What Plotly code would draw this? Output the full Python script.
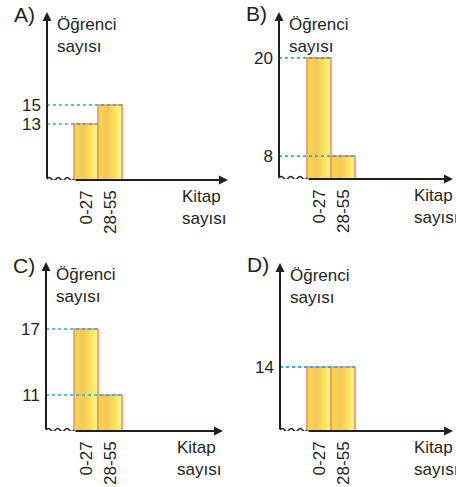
import plotly.graph_objects as go

# ---------------- data ----------------
categories = ["0-27", "28-55"]
panel_labels = ["A)", "B)", "C)", "D)"]
values_A = [13, 15]
values_B = [20, 8]
values_C = [17, 11]
values_D = [14, 14]
series = [values_A, values_B, values_C, values_D]
y_title = "Öğrenci<br>sayısı"
x_title = "Kitap<br>sayısı"

# ---------------- style / geometry ----------------
W, H = 456, 487
FONT = "Liberation Sans, Arial, Helvetica, sans-serif"
INK = "#231f20"
DOT = "#29abe2"
EDGE = "#f3906a"
GRAD = [[0.0, "#f8df34"], [0.38, "#f5c464"], [0.68, "#f9e44e"], [1.0, "#fcf2a8"]]
UNIT = 24.0  # pixels per bar

# y-axis x, first bar left x, arrow tip x, baseline y, arrow tip y (pixels), y-range
geom = [
    dict(ax0=47, bar0=74, ax1=228, base=180, top=12, ymin=7.1, ymax=24.8),
    dict(ax0=279, bar0=307, ax1=453, base=179, top=12, ymin=5.2, ymax=25.6),
    dict(ax0=46, bar0=74, ax1=223, base=431, top=262, ymin=7.73, ymax=23.1),
    dict(ax0=280, bar0=307, ax1=453, base=431, top=263, ymin=7.6, ymax=24.4),
]


def px(x):
    return x / W


def py(y):
    return 1 - y / H


fig = go.Figure()
layout = dict(
    width=W, height=H, margin=dict(l=0, r=0, t=0, b=0),
    paper_bgcolor="white", plot_bgcolor="rgba(0,0,0,0)",
    showlegend=False, font=dict(family=FONT, color=INK, size=17),
)
annotations = []
shapes = []

for k, (vals, g, lab) in enumerate(zip(series, geom, panel_labels)):
    n = "" if k == 0 else str(k + 1)
    xr, yr = "x" + n, "y" + n
    xmin = -0.5 - (g["bar0"] - g["ax0"]) / UNIT
    xmax = xmin + (g["ax1"] - g["ax0"]) / UNIT

    for i, v in enumerate(vals):
        fig.add_trace(go.Scatter(
            x=[i - 0.5, i - 0.5, i + 0.5, i + 0.5, i - 0.5],
            y=[0, v, v, 0, 0],
            mode="lines", fill="toself",
            fillgradient=dict(type="horizontal", colorscale=GRAD),
            line=dict(color=EDGE, width=1.6),
            xaxis=xr, yaxis=yr, hoverinfo="skip",
        ))

    layout["xaxis" + n] = dict(
        domain=[px(g["ax0"]), px(g["ax1"])], range=[xmin, xmax], anchor=yr,
        showgrid=False, zeroline=False, showline=False, fixedrange=True,
        tickvals=list(range(len(categories))), ticktext=categories,
        tickangle=-90, ticks="", ticklabelstandoff=6,
        tickfont=dict(family=FONT, size=17, color=INK),
    )
    layout["yaxis" + n] = dict(
        domain=[py(g["base"]), py(g["top"])], range=[g["ymin"], g["ymax"]], anchor=xr,
        showgrid=False, zeroline=False, showline=False, fixedrange=True,
        tickvals=sorted(set(vals)), ticks="", ticklabelstandoff=5,
        tickfont=dict(family=FONT, size=17, color=INK),
    )

    # dotted guide lines from y-axis to right edge of each bar
    for i, v in enumerate(vals):
        shapes.append(dict(type="line", xref=xr, yref=yr, x0=xmin, x1=i + 0.5, y0=v, y1=v,
                           line=dict(color=DOT, width=1.6, dash="dot")))

    # axes with arrows
    annotations.append(dict(x=xmin, y=g["ymax"], ax=xmin, ay=g["ymin"], xref=xr, yref=yr,
                            axref=xr, ayref=yr, text="", showarrow=True, arrowhead=2,
                            arrowsize=0.9, arrowwidth=2, arrowcolor=INK, standoff=0))
    annotations.append(dict(x=xmax, y=g["ymin"], ax=-0.5, ay=g["ymin"], xref=xr, yref=yr,
                            axref=xr, ayref=yr, text="", showarrow=True, arrowhead=2,
                            arrowsize=0.9, arrowwidth=2, arrowcolor=INK, standoff=0))
    # wavy break on x-axis
    L = (g["bar0"] - g["ax0"])
    p = L / 3.0
    path = "M0,1"
    for j in range(3):
        x0 = j * p
        path += f" Q{x0 + p / 4:.2f},4 {x0 + p / 2:.2f},1 Q{x0 + 3 * p / 4:.2f},-2 {x0 + p:.2f},1"
    shapes.append(dict(type="path", xref=xr, yref=yr, xsizemode="pixel", ysizemode="pixel",
                       xanchor=xmin, yanchor=g["ymin"], path=path,
                       line=dict(color=INK, width=1.5)))

    # texts
    annotations.append(dict(text=lab, x=px(g["ax0"] - 35), y=py(g["top"] + (1 if k % 2 else 3)),
                            xref="paper", yref="paper", xanchor="left", yanchor="middle",
                            showarrow=False, font=dict(size=21, family=FONT, color=INK)))
    annotations.append(dict(text=y_title, x=px(g["ax0"] + 8), y=py(g["top"] + 1),
                            xref="paper", yref="paper", xanchor="left", yanchor="top",
                            align="left", showarrow=False,
                            font=dict(size=17, family=FONT, color=INK)))
    annotations.append(dict(text=x_title, x=px(g["ax1"] - 48 if k % 2 == 0 else g["ax1"] - 41),
                            y=py(g["base"] + 5),
                            xref="paper", yref="paper", xanchor="left", yanchor="top",
                            align="left", showarrow=False,
                            font=dict(size=17, family=FONT, color=INK)))

layout["annotations"] = annotations
layout["shapes"] = shapes
fig.update_layout(**layout)
fig.write_html("out.html", config={"displayModeBar": False, "staticPlot": True},
               post_script="document.body.style.margin='0';document.body.style.overflow='hidden';")
